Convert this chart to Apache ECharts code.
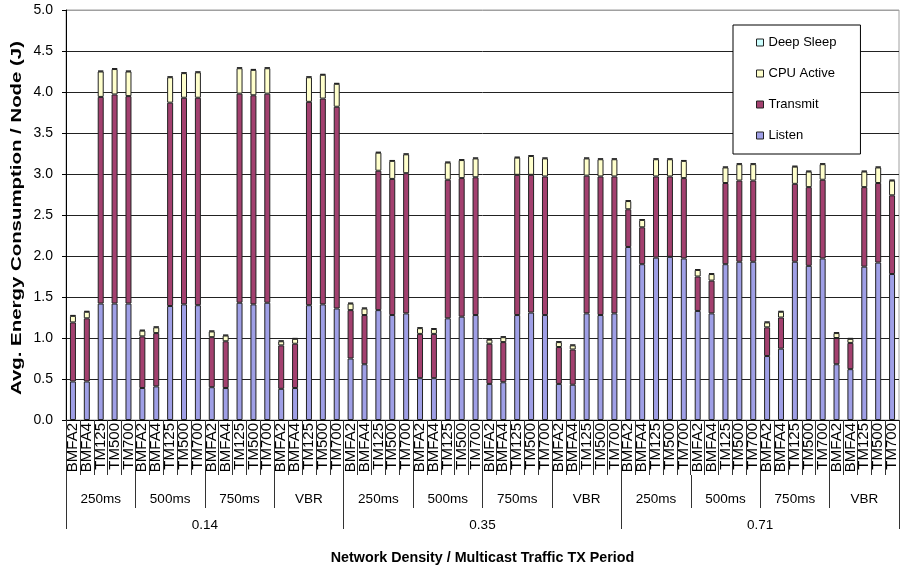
<!DOCTYPE html>
<html>
<head>
<meta charset="utf-8">
<script src="https://cdn.jsdelivr.net/npm/echarts@6/dist/echarts.min.js"></script>
<style>
  html, body { margin: 0; padding: 0; background: #fff; }
  #chart { width: 905px; height: 570px; }
</style>
</head>
<body>
<div id="chart"></div>
<script>
// Category hierarchy: density -> traffic period -> protocol
const densities = ['0.14', '0.35', '0.71'];
const periods = ['250ms', '500ms', '750ms', 'VBR'];
const protocols = ['BMFA2', 'BMFA4', 'TM125', 'TM500', 'TM700'];

// Energy per node (J), one value per bar, in axis order
const listen = [
  0.47, 0.47, 1.42, 1.42, 1.42,  0.39, 0.41, 1.39, 1.41, 1.40,  0.40, 0.39, 1.43, 1.41, 1.43,  0.38, 0.39, 1.40, 1.41, 1.36,
  0.75, 0.68, 1.34, 1.28, 1.30,  0.51, 0.51, 1.24, 1.26, 1.28,  0.44, 0.46, 1.28, 1.31, 1.28,  0.44, 0.43, 1.30, 1.28, 1.30,
  2.11, 1.90, 1.98, 1.99, 1.97,  1.33, 1.30, 1.90, 1.93, 1.93,  0.78, 0.87, 1.93, 1.88, 1.97,  0.68, 0.62, 1.87, 1.92, 1.78
];
const transmit = [
  0.72, 0.77, 2.52, 2.55, 2.53,  0.63, 0.65, 2.48, 2.52, 2.53,  0.61, 0.57, 2.55, 2.55, 2.55,  0.53, 0.54, 2.48, 2.51, 2.46,
  0.59, 0.60, 1.70, 1.66, 1.71,  0.54, 0.54, 1.69, 1.69, 1.68,  0.49, 0.49, 1.71, 1.68, 1.69,  0.45, 0.43, 1.68, 1.69, 1.67,
  0.46, 0.45, 0.99, 0.98, 0.98,  0.42, 0.40, 0.99, 0.99, 0.99,  0.35, 0.38, 0.95, 0.96, 0.96,  0.32, 0.32, 0.97, 0.97, 0.96
];
const cpuActive = [
  0.08, 0.08, 0.31, 0.31, 0.30,  0.07, 0.07, 0.31, 0.30, 0.31,  0.07, 0.07, 0.31, 0.31, 0.31,  0.05, 0.06, 0.30, 0.29, 0.28,
  0.08, 0.08, 0.22, 0.22, 0.23,  0.07, 0.06, 0.21, 0.22, 0.23,  0.05, 0.06, 0.21, 0.23, 0.22,  0.06, 0.05, 0.21, 0.21, 0.21,
  0.10, 0.09, 0.21, 0.21, 0.21,  0.08, 0.08, 0.19, 0.20, 0.20,  0.06, 0.07, 0.21, 0.19, 0.19,  0.06, 0.05, 0.19, 0.19, 0.18
];
const deepSleep = [
  0.01, 0.01, 0.01, 0.01, 0.01,  0.01, 0.01, 0.01, 0.01, 0.01,  0.01, 0.01, 0.01, 0.01, 0.01,  0.01, 0.01, 0.01, 0.01, 0.01,
  0.01, 0.01, 0.01, 0.01, 0.01,  0.01, 0.01, 0.01, 0.01, 0.01,  0.01, 0.01, 0.01, 0.01, 0.01,  0.01, 0.01, 0.01, 0.01, 0.01,
  0.01, 0.01, 0.01, 0.01, 0.01,  0.01, 0.01, 0.01, 0.01, 0.01,  0.01, 0.01, 0.01, 0.01, 0.01,  0.01, 0.01, 0.01, 0.01, 0.01
];

const yTicks = { min: 0, max: 5, interval: 0.5 };
const yTitle = 'Avg. Energy Consumption / Node (J)';
const xTitle = 'Network Density / Multicast Traffic TX Period';

// Flattened label rows for the three-level category axis
const protocolRow = [];
const periodRow = [];
densities.forEach(() => {
  periods.forEach(p => {
    periodRow.push(p);
    protocols.forEach(pr => protocolRow.push(pr));
  });
});

const FONT = '"Liberation Sans", Arial, sans-serif';
const LINE = '#333';

const seriesDefs = [
  { name: 'Listen', data: listen, color: '#9f9fe6' },
  { name: 'Transmit', data: transmit, color: '#a3406f' },
  { name: 'CPU Active', data: cpuActive, color: '#ffffcc' },
  { name: 'Deep Sleep', data: deepSleep, color: '#ccffff' }
];

const chart = echarts.init(document.getElementById('chart'), null, { renderer: 'canvas' });

// 11 horizontal split lines; the top one sits on the lighter plot frame
const splitColors = [];
for (let i = 0; i < 10; i++) splitColors.push('#222');
splitColors.push('#a0a0a0');

chart.setOption({
  animation: false,
  backgroundColor: '#fff',
  textStyle: { fontFamily: FONT },
  grid: {
    left: 66, right: 6, top: 10, bottom: 143,
    show: true, borderColor: '#a0a0a0', borderWidth: 1, backgroundColor: 'transparent'
  },
  legend: {
    orient: 'vertical',
    left: 733, top: 25,
    data: ['Deep Sleep', 'CPU Active', 'Transmit', 'Listen'],
    icon: 'rect',
    itemWidth: 7, itemHeight: 7,
    itemGap: 18,
    padding: [11, 24, 12, 23],
    borderColor: '#000', borderWidth: 1,
    backgroundColor: '#fff',
    itemStyle: { borderColor: '#222', borderWidth: 1 },
    textStyle: { fontFamily: FONT, fontSize: 13, color: '#000' }
  },
  graphic: [
    {
      // vertical axis title, drawn along the left edge of the plot
      type: 'text',
      x: 17, y: 218,
      rotation: Math.PI / 2,
      scaleX: 1.36,
      style: {
        text: yTitle,
        fontFamily: FONT, fontSize: 15, fontWeight: 'bold', fill: '#000',
        align: 'center', verticalAlign: 'middle'
      },
      silent: true
    }
  ],
  xAxis: [
    {
      type: 'category',
      data: protocolRow,
      position: 'bottom',
      axisLine: { show: true, lineStyle: { color: '#000', width: 1 } },
      axisTick: { show: true, interval: 0, length: 55, lineStyle: { color: LINE } },
      axisLabel: {
        interval: 0, rotate: 90, margin: 3,
        fontFamily: FONT, fontSize: 15, color: '#000'
      },
      splitLine: { show: false }
    },
    {
      type: 'category',
      data: periodRow,
      position: 'bottom',
      offset: 55,
      axisLine: { show: false },
      axisTick: { show: true, interval: 0, length: 33, lineStyle: { color: LINE } },
      axisLabel: { interval: 0, margin: 17, fontFamily: FONT, fontSize: 13.5, color: '#000' },
      splitLine: { show: false }
    },
    {
      type: 'category',
      data: densities,
      position: 'bottom',
      offset: 55,
      axisLine: { show: false },
      axisTick: { show: true, interval: 0, length: 54, lineStyle: { color: LINE } },
      axisLabel: { interval: 0, margin: 43, fontFamily: FONT, fontSize: 13.5, color: '#000' },
      splitLine: { show: false },
      name: xTitle,
      nameLocation: 'middle',
      nameGap: 76,
      nameTextStyle: { fontFamily: FONT, fontSize: 14.3, fontWeight: 'bold', color: '#000' }
    }
  ],
  yAxis: {
    type: 'value',
    min: yTicks.min, max: yTicks.max, interval: yTicks.interval,
    axisLine: { show: true, lineStyle: { color: '#000' } },
    axisTick: { show: true, length: 4, lineStyle: { color: '#000' } },
    axisLabel: {
      margin: 13, fontFamily: FONT, fontSize: 14, color: '#000',
      formatter: v => v.toFixed(1)
    },
    splitLine: { show: true, lineStyle: { color: splitColors, width: 1 } }
  },
  series: seriesDefs.map(s => ({
    name: s.name,
    type: 'bar',
    stack: 'energy',
    xAxisIndex: 0,
    barWidth: 6,
    data: s.data,
    itemStyle: { color: s.color, borderColor: '#222', borderWidth: 1 },
    emphasis: { disabled: true }
  }))
});
</script>
</body>
</html>
